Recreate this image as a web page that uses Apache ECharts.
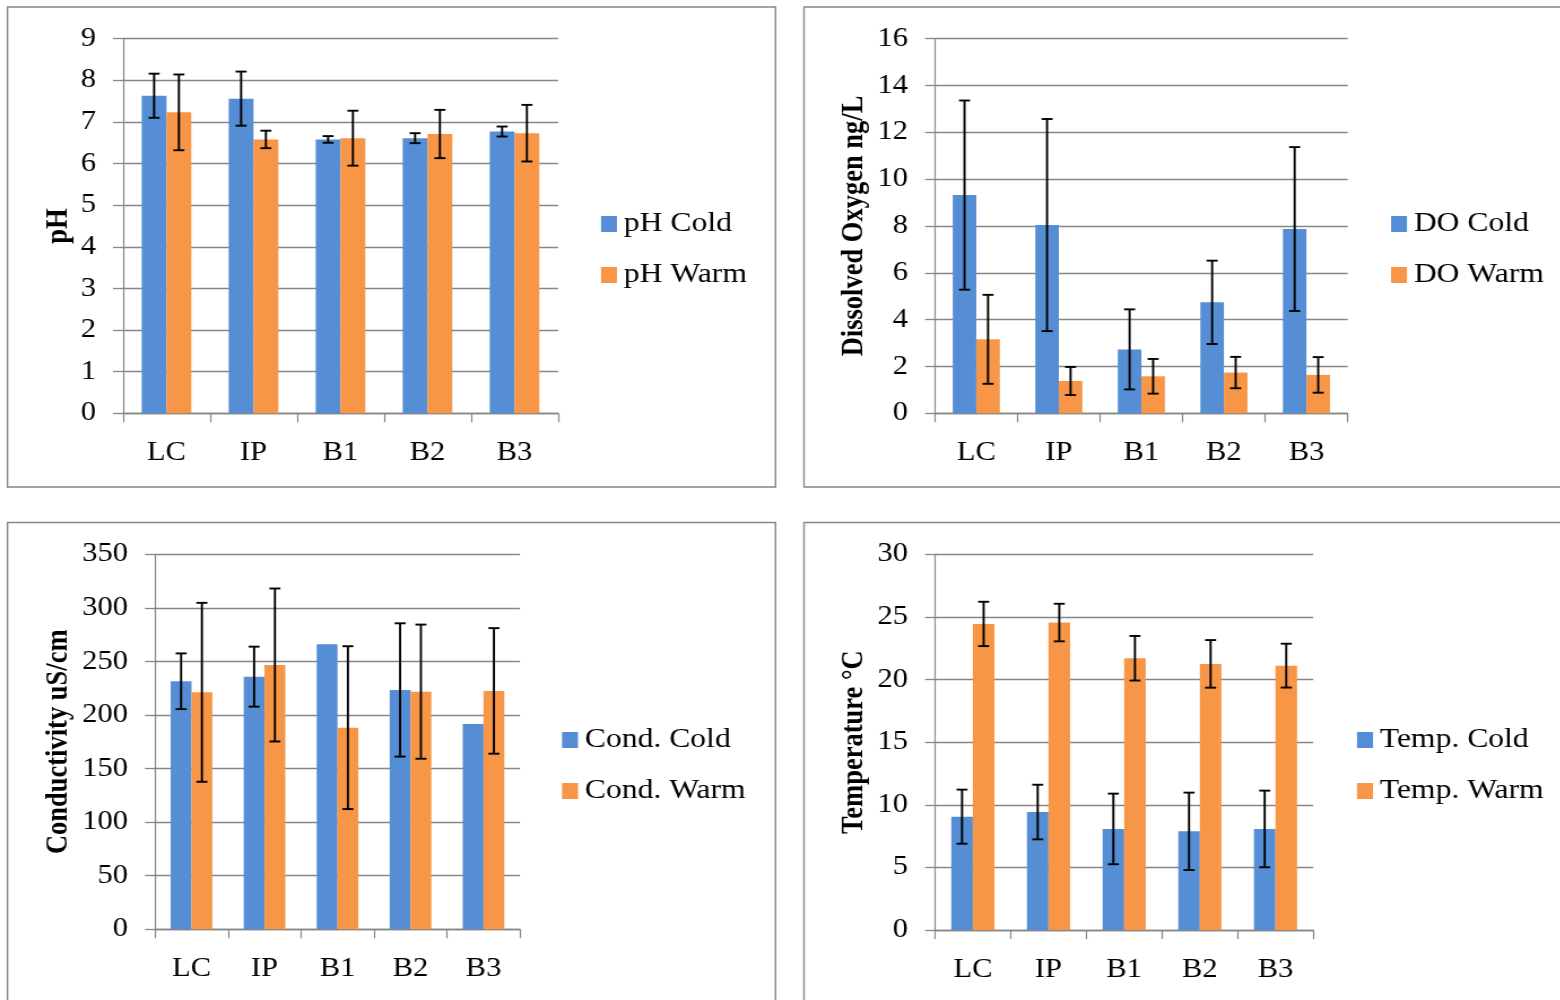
<!DOCTYPE html>
<html>
<head>
<meta charset="utf-8">
<script src="https://cdn.jsdelivr.net/npm/echarts@6/dist/echarts.min.js"></script>
<style>
  html, body { margin: 0; padding: 0; background: #ffffff; overflow: hidden; }
  #chart { height: 1000px; transform-origin: 0 0; }
</style>
</head>
<body>
<div id="chart"></div>
<script>
// Sampling sites
const categories = ['LC', 'IP', 'B1', 'B2', 'B3'];

// pH
const phCold = [7.63, 7.56, 6.58, 6.61, 6.77];
const phColdErr = [0.53, 0.65, 0.08, 0.12, 0.12];
const phWarm = [7.23, 6.58, 6.61, 6.71, 6.73];
const phWarmErr = [0.91, 0.21, 0.66, 0.58, 0.68];

// Dissolved oxygen
const doCold = [9.32, 8.04, 2.73, 4.74, 7.87];
const doColdErr = [4.04, 4.53, 1.71, 1.78, 3.50];
const doWarm = [3.16, 1.38, 1.58, 1.74, 1.64];
const doWarmErr = [1.90, 0.60, 0.74, 0.67, 0.76];

// Conductivity (no spread recorded for B1 and B3 in the cold season)
const condCold = [231.5, 235.8, 266.0, 223.4, 191.7];
const condColdErr = [26, 28, null, 62.2, null];
const condWarm = [221.2, 246.7, 188.2, 221.8, 222.5];
const condWarmErr = [83.5, 71.4, 76.0, 62.6, 58.6];

// Temperature
const tempCold = [9.05, 9.42, 8.07, 7.88, 8.07];
const tempColdErr = [2.16, 2.18, 2.82, 3.09, 3.06];
const tempWarm = [24.44, 24.55, 21.70, 21.25, 21.11];
const tempWarmErr = [1.77, 1.50, 1.78, 1.90, 1.75];

// Value-axis ranges: [min, max, step]
const phRange = [0, 9, 1];
const doRange = [0, 16, 2];
const condRange = [0, 350, 50];
const tempRange = [0, 30, 5];

// The figure is drawn on a narrower canvas and widened with a CSS scaleX,
// which gives the type its slightly wide, stretched appearance.
const STRETCH = 1.13;
const X = function (v) { return v / STRETCH; };
const el = document.getElementById('chart');
el.style.width = (1560 / STRETCH) + 'px';
el.style.transform = 'scaleX(' + STRETCH + ')';

const BLUE = '#558ED5';
const ORANGE = '#F79646';
const GREY = '#868686';
const FONT = 'Liberation Serif';
const CAT_GAP = 0.43;

const panels = [
  { cold: 'pH Cold', warm: 'pH Warm', name: 'pH', nameGap: 49,
    c: phCold, ce: phColdErr, w: phWarm, we: phWarmErr, range: phRange,
    grid: { left: 123, top: 38.7, width: 435, height: 374.6 },
    legend: { left: 601, top: 210 } },
  { cold: 'DO Cold', warm: 'DO Warm', name: 'Dissolved Oxygen ng/L', nameGap: 65,
    c: doCold, ce: doColdErr, w: doWarm, we: doWarmErr, range: doRange,
    grid: { left: 935, top: 38.7, width: 412.7, height: 374.6 },
    legend: { left: 1391, top: 210 } },
  { cold: 'Cond. Cold', warm: 'Cond. Warm', name: 'Conductivity uS/cm', nameGap: 81,
    c: condCold, ce: condColdErr, w: condWarm, we: condWarmErr, range: condRange,
    grid: { left: 155, top: 554.3, width: 365, height: 375 },
    legend: { left: 562, top: 726 } },
  { cold: 'Temp. Cold', warm: 'Temp. Warm', name: 'Temperature \u00B0C', nameGap: 65,
    c: tempCold, ce: tempColdErr, w: tempWarm, we: tempWarmErr, range: tempRange,
    grid: { left: 935, top: 554.3, width: 378.3, height: 375.7 },
    legend: { left: 1357, top: 726 } }
];

// I-beam error bar drawn on top of one bar of a two-bar group
function errorBarRenderer(side) {
  return function (params, api) {
    const err = api.value(2);
    if (err === null || err === undefined || isNaN(err)) return;
    const idx = api.value(0);
    const val = api.value(1);
    const center = api.coord([idx, val]);
    const band = api.size([1, 0])[0];
    const barW = band * (1 - CAT_GAP) / 2;
    const x = center[0] + side * barW / 2;
    const yTop = api.coord([idx, val + err])[1];
    const yBot = api.coord([idx, val - err])[1];
    const cap = X(5.5);
    const style = { stroke: '#000000', lineWidth: 1.9 };
    return {
      type: 'group',
      children: [
        { type: 'line', shape: { x1: x, y1: yTop, x2: x, y2: yBot }, style: style },
        { type: 'line', shape: { x1: x - cap, y1: yTop, x2: x + cap, y2: yTop }, style: style },
        { type: 'line', shape: { x1: x - cap, y1: yBot, x2: x + cap, y2: yBot }, style: style }
      ]
    };
  };
}

function frame(x, y, w, h) {
  return { type: 'rect', silent: true,
    shape: { x: X(x), y: y, width: X(w), height: h },
    style: { fill: 'none', stroke: GREY, lineWidth: 1.4 } };
}

const option = {
  animation: false,
  backgroundColor: '#ffffff',
  textStyle: { fontFamily: FONT },
  grid: [], xAxis: [], yAxis: [], legend: [], series: [],
  graphic: [
    frame(7.5, 7, 768, 480),
    frame(804, 7, 800, 480),
    frame(7.5, 522.5, 768, 520),
    frame(804, 522.5, 800, 520)
  ]
};

panels.forEach(function (p, i) {
  option.grid.push({ containLabel: false,
    left: X(p.grid.left), top: p.grid.top, width: X(p.grid.width), height: p.grid.height });
  option.xAxis.push({
    type: 'category', gridIndex: i, data: categories,
    axisLine: { lineStyle: { color: GREY, width: 1.3 } },
    axisTick: { show: true, length: 9, lineStyle: { color: GREY, width: 1.2 } },
    axisLabel: { color: '#000000', fontSize: 27, fontFamily: FONT, margin: 26 },
    splitLine: { show: false }
  });
  option.yAxis.push({
    type: 'value', gridIndex: i,
    min: p.range[0], max: p.range[1], interval: p.range[2],
    name: p.name, nameLocation: 'middle', nameRotate: 90, nameGap: X(p.nameGap),
    nameTextStyle: { color: '#000000', fontSize: 26.5, fontWeight: 'bold', fontFamily: FONT },
    axisLine: { show: true, lineStyle: { color: GREY, width: 1.2 } },
    axisTick: { show: true, length: X(10), lineStyle: { color: GREY, width: 1.3 } },
    axisLabel: { color: '#000000', fontSize: 27, fontFamily: FONT, margin: X(27) },
    splitLine: { show: true, lineStyle: { color: GREY, width: 1.3 } }
  });
  option.legend.push({
    orient: 'vertical', left: X(p.legend.left), top: p.legend.top, padding: 0,
    data: [p.cold, p.warm], icon: 'rect', itemWidth: X(16), itemHeight: 16,
    itemGap: 23, selectedMode: false,
    textStyle: { color: '#000000', fontSize: 28, fontFamily: FONT, padding: [0, 0, 0, 1] }
  });
  option.series.push({
    name: p.cold, type: 'bar', xAxisIndex: i, yAxisIndex: i, data: p.c,
    itemStyle: { color: BLUE }, barGap: '0%', barCategoryGap: (CAT_GAP * 100) + '%'
  });
  option.series.push({
    name: p.warm, type: 'bar', xAxisIndex: i, yAxisIndex: i, data: p.w,
    itemStyle: { color: ORANGE }, barGap: '0%', barCategoryGap: (CAT_GAP * 100) + '%'
  });
  option.series.push({
    type: 'custom', xAxisIndex: i, yAxisIndex: i, z: 5,
    renderItem: errorBarRenderer(-1),
    data: p.c.map(function (v, k) { return [k, v, p.ce[k]]; })
  });
  option.series.push({
    type: 'custom', xAxisIndex: i, yAxisIndex: i, z: 5,
    renderItem: errorBarRenderer(1),
    data: p.w.map(function (v, k) { return [k, v, p.we[k]]; })
  });
});

const chart = echarts.init(el, null, { renderer: 'canvas' });
chart.setOption(option);
</script>
</body>
</html>
